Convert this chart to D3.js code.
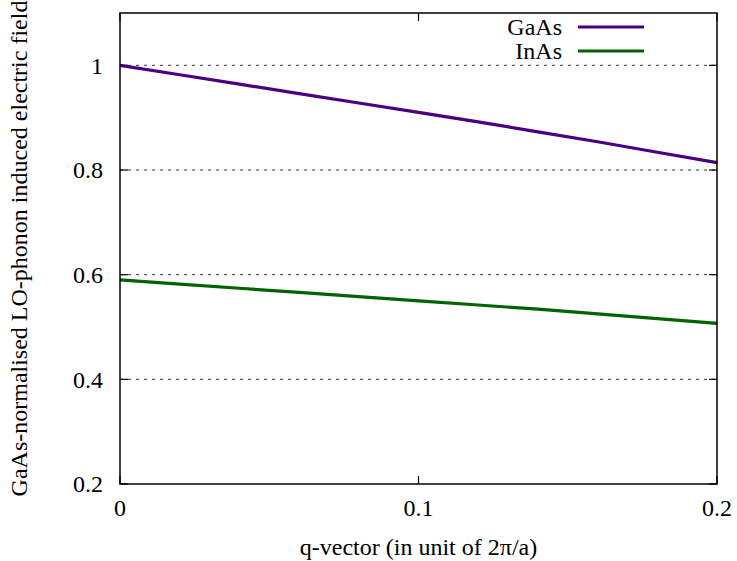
<!DOCTYPE html>
<html><head><meta charset="utf-8">
<script src="https://cdn.jsdelivr.net/npm/d3@7"></script>
<style>body{margin:0;background:#fff}svg{display:block}</style>
</head><body>
<script>
const qValues = [0, 0.02, 0.04, 0.06, 0.08, 0.10, 0.12, 0.14, 0.16, 0.18, 0.20];
const gaasValues = [1.0, 0.982, 0.964, 0.946, 0.928, 0.910, 0.892, 0.873, 0.854, 0.834, 0.814];
const inasValues = [0.590, 0.582, 0.574, 0.566, 0.558, 0.550, 0.542, 0.534, 0.525, 0.516, 0.507];
const seriesNames = ["GaAs", "InAs"];
const seriesColors = ["#4b0082", "#006400"];
const xTicks = [0, 0.1, 0.2];
const yTicks = [0.2, 0.4, 0.6, 0.8, 1.0];
const xLabel = "q-vector (in unit of 2\u03c0/a)";
const yLabel = "GaAs-normalised LO-phonon induced electric field";

const W = 737, H = 561;
const L = 120, R = 717, T = 13, B = 484;
const FONT = "Liberation Serif, Times New Roman, DejaVu Serif, serif";
const svg = d3.select("body").append("svg").attr("width", W).attr("height", H)
  .style("font-family", FONT);
const x = d3.scaleLinear().domain([0, 0.2]).range([L, R]);
const y = d3.scaleLinear().domain([0.2, 1.1]).range([B, T]);

// grid
svg.append("g").selectAll("line").data(yTicks.filter(v => v > 0.2)).join("line")
  .attr("x1", L).attr("x2", R).attr("y1", d => y(d)).attr("y2", d => y(d))
  .attr("stroke", "#333").attr("stroke-width", 1).attr("stroke-dasharray", "3,5");

// ticks (inside, mirrored)
const tl = 8;
const ty = svg.append("g").attr("stroke", "#000").attr("stroke-width", 1.2);
yTicks.forEach(v => {
  ty.append("line").attr("x1", L).attr("x2", L + tl).attr("y1", y(v)).attr("y2", y(v));
  ty.append("line").attr("x1", R).attr("x2", R - tl).attr("y1", y(v)).attr("y2", y(v));
});
xTicks.forEach(v => {
  ty.append("line").attr("x1", x(v)).attr("x2", x(v)).attr("y1", B).attr("y2", B - tl);
  ty.append("line").attr("x1", x(v)).attr("x2", x(v)).attr("y1", T).attr("y2", T + tl);
});

// tick labels
svg.append("g").selectAll("text").data(yTicks).join("text")
  .attr("x", 103).attr("y", d => y(d)).attr("dy", "0.35em").attr("text-anchor", "end")
  .style("font-size", "24px").text(d => d3.format("~g")(d));
svg.append("g").selectAll("text").data(xTicks).join("text")
  .attr("x", d => x(d)).attr("y", 508).attr("dy", "0.35em").attr("text-anchor", "middle")
  .style("font-size", "24px").text(d => d3.format("~g")(d));

// axis titles
svg.append("text").attr("x", (L + R) / 2).attr("y", 547).attr("dy", "0.35em")
  .attr("text-anchor", "middle").style("font-size", "24px").text(xLabel);
svg.append("text").attr("transform", `translate(19,${(T + B) / 2}) rotate(-90)`)
  .attr("dy", "0.35em").attr("text-anchor", "middle").style("font-size", "24px").text(yLabel);

// lines
const line = d3.line().x((d, i) => x(qValues[i])).y(d => y(d));
[gaasValues, inasValues].forEach((vals, k) => {
  svg.append("path").datum(vals).attr("d", line).attr("fill", "none")
    .attr("stroke", seriesColors[k]).attr("stroke-width", 3.2);
});

// border
svg.append("rect").attr("x", L).attr("y", T).attr("width", R - L).attr("height", B - T)
  .attr("fill", "none").attr("stroke", "#000").attr("stroke-width", 1.5);

// legend
seriesNames.forEach((n, k) => {
  const yy = 27 + k * 24;
  svg.append("text").attr("x", 562).attr("y", yy).attr("dy", "0.35em")
    .attr("text-anchor", "end").style("font-size", "24px").text(n);
  svg.append("line").attr("x1", 578).attr("x2", 644).attr("y1", yy).attr("y2", yy)
    .attr("stroke", seriesColors[k]).attr("stroke-width", 3.2);
});
</script>
</body></html>
